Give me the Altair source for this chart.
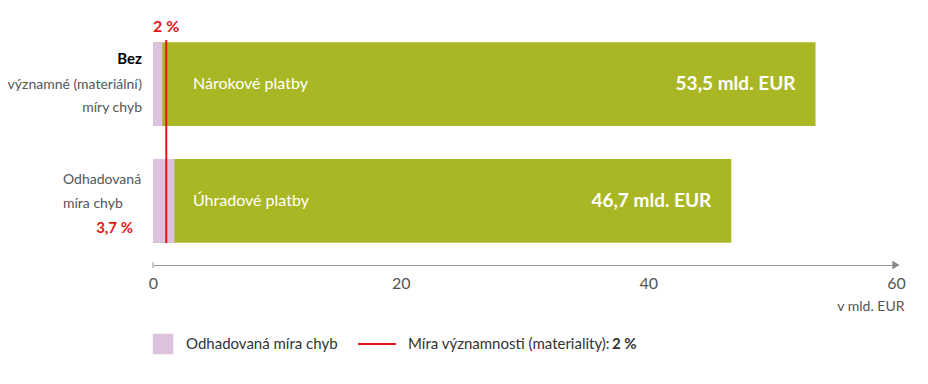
import altair as alt
import pandas as pd

categories = ["Nárokové platby", "Úhradové platby"]
totals = [53.5, 46.7]
error_amounts = [0.75, 1.73]
value_labels = ["53,5 mld. EUR", "46,7 mld. EUR"]
materiality = 1.07
axis_values = [0, 20, 40, 60]

FONT = "Lato, Roboto, sans-serif"
GREEN = "#a9b724"
PINK = "#dcc3dd"
RED = "#e3161b"
GREY = "#555555"

df = pd.DataFrame({
    "cat": categories,
    "total": totals,
    "err": error_amounts,
    "zero": [0, 0],
    "vlabel": value_labels,
})

yscale = alt.Scale(domain=categories, paddingInner=0.282, paddingOuter=0.19)
xscale = alt.Scale(domain=[0, 60], nice=False)
Y = alt.Y("cat:N", scale=yscale, axis=None)

base = alt.Chart(df)

green = base.mark_bar(color=GREEN).encode(
    x=alt.X("zero:Q", scale=xscale,
            axis=alt.Axis(values=axis_values, ticks=False, grid=False, labelFlush=False,
                          domainColor="#999999", labelColor=GREY, labelFontSize=16,
                          labelFont=FONT, labelPadding=10,
                          title="v mld. EUR", titleAnchor="end", titleAlign="right",
                          titleX=751, titleFont=FONT,
                          titleFontSize=14, titleFontWeight="normal",
                          titleColor=GREY, titlePadding=8)),
    x2="total:Q",
    y=Y,
)
pink = base.mark_bar(color=PINK).encode(x=alt.X("zero:Q", scale=xscale), x2="err:Q", y=Y)

name_text = base.mark_text(align="left", baseline="middle", color="white",
                           fontSize=16, font=FONT, dx=40).encode(
    x=alt.X("zero:Q", scale=xscale), y=Y, text="cat:N")
val_text = base.mark_text(align="right", baseline="middle", color="white",
                          fontSize=19, font=FONT, fontWeight="bold", dx=-20).encode(
    x=alt.X("total:Q", scale=xscale), y=Y, text="vlabel:N")

mdf = pd.DataFrame({"m": [materiality], "lbl": ["2 %"]})
mrule = alt.Chart(mdf).mark_rule(color=RED, strokeWidth=2).encode(
    x=alt.X("m:Q", scale=xscale), y=alt.value(20), y2=alt.value(223))
mtext = alt.Chart(mdf).mark_text(color=RED, fontSize=16, fontWeight="bold", font=FONT,
                                 baseline="middle").encode(
    x=alt.X("m:Q", scale=xscale), y=alt.value(7), text="lbl:N")

# left labels
def lab(text, cat, dy, align, xpx, color=GREY, weight="normal", size=14):
    d = pd.DataFrame({"cat": [cat], "t": [text]})
    return alt.Chart(d).mark_text(align=align, baseline="middle", dy=dy, color=color,
                                  fontWeight=weight, fontSize=size, font=FONT).encode(
        x=alt.value(xpx), y=Y, text="t:N")

labels = [
    lab("Bez", categories[0], -25, "right", -11, color="black", weight="bold", size=15),
    lab("významné (materiální)", categories[0], 1, "right", -11),
    lab("míry chyb", categories[0], 24, "right", -11),
    lab("Odhadovaná", categories[1], -21, "left", -90),
    lab("míra chyb", categories[1], 3, "left", -90),
    lab("3,7 %", categories[1], 27, "right", -20, color=RED, weight="bold", size=15),
]

# axis decorations
tickd = pd.DataFrame({"v": [0]})
tick0 = alt.Chart(tickd).mark_rule(color="#999999").encode(
    x=alt.X("v:Q", scale=xscale), y=alt.value(242), y2=alt.value(248))
arrowd = pd.DataFrame({"v": [60]})
arrow = alt.Chart(arrowd).mark_point(shape="triangle-right", filled=True, color="#888888",
                                     size=70, opacity=1).encode(
    x=alt.X("v:Q", scale=xscale), y=alt.value(245))

# legend
leg_sq = alt.Chart(tickd).mark_square(color=PINK, size=420, opacity=1).encode(
    x=alt.value(10), y=alt.value(324))
leg_t1 = alt.Chart(pd.DataFrame({"t": ["Odhadovaná míra chyb"]})).mark_text(
    align="left", baseline="middle", fontSize=15, font=FONT, color="#333333").encode(
    x=alt.value(33), y=alt.value(324), text="t:N")
leg_line = alt.Chart(tickd).mark_rule(color=RED, strokeWidth=2).encode(
    x=alt.value(205), x2=alt.value(243), y=alt.value(324))
leg_t2 = alt.Chart(pd.DataFrame({"t": ["Míra významnosti (materiality):"]})).mark_text(
    align="left", baseline="middle", fontSize=15, font=FONT, color="#333333").encode(
    x=alt.value(255), y=alt.value(324), text="t:N")
leg_t3 = alt.Chart(pd.DataFrame({"t": ["2 %"]})).mark_text(
    align="left", baseline="middle", fontSize=15, font=FONT, fontWeight="bold",
    color="#333333").encode(x=alt.value(459), y=alt.value(324), text="t:N")

chart = alt.layer(
    green, pink, name_text, val_text, mrule, mtext, *labels, tick0, arrow,
    leg_sq, leg_t1, leg_line, leg_t2, leg_t3
).properties(
    width=743, height=245,
    autosize=alt.AutoSizeParams(type="none"),
    padding={"left": 145, "top": 12, "right": 24, "bottom": 100},
).configure_view(stroke=None)

chart.save("out.html", embed_options={"renderer": "svg", "actions": False})
